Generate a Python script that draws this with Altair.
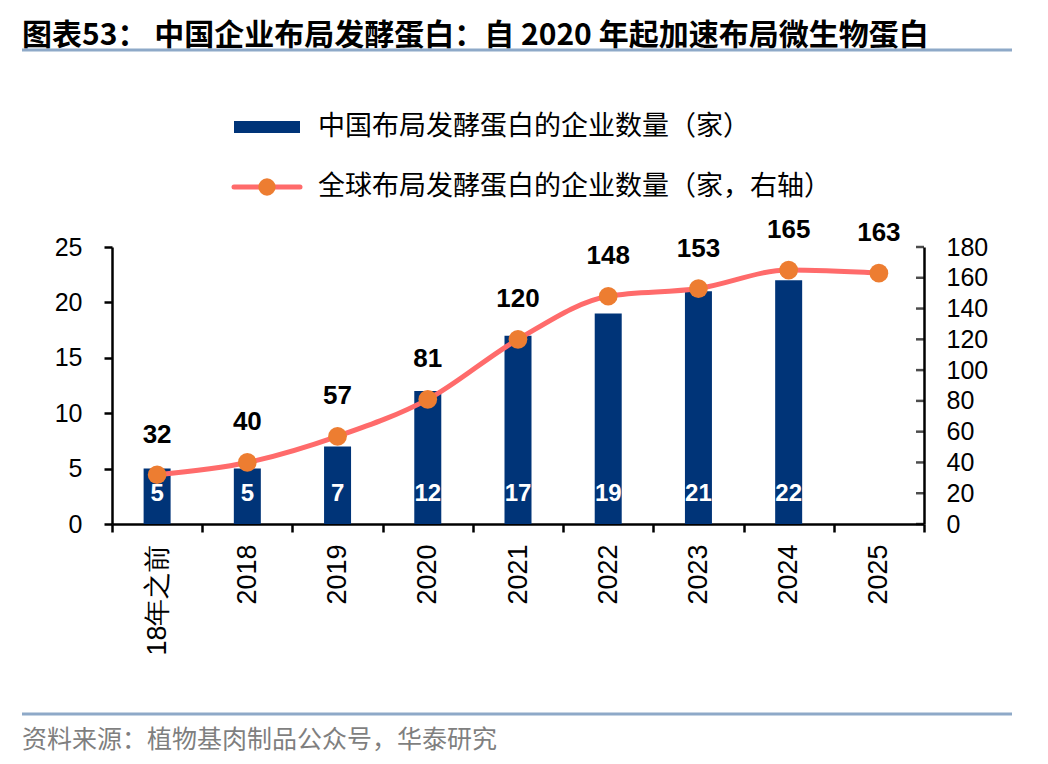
import altair as alt
import pandas as pd

categories = ["18年之前", "2018", "2019", "2020", "2021", "2022", "2023", "2024", "2025"]
china_counts = [5, 5, 7, 12, 17, 19, 21, 22, None]
global_counts = [32, 40, 57, 81, 120, 148, 153, 165, 163]
left_ticks = [0, 5, 10, 15, 20, 25]
right_ticks = [0, 20, 40, 60, 80, 100, 120, 140, 160, 180]

title_text = "图表53：  中国企业布局发酵蛋白：自 2020 年起加速布局微生物蛋白"
legend_bar = "中国布局发酵蛋白的企业数量（家）"
legend_line = "全球布局发酵蛋白的企业数量（家，右轴）"
source_text = "资料来源：植物基肉制品公众号，华泰研究"

df = pd.DataFrame({"cat": categories, "china": china_counts, "glob": global_counts})
rticks = pd.DataFrame({"glob": right_ticks})

CN = "Noto Sans CJK SC"
NUM = "Liberation Sans"
BAR_C = "#003478"
LINE_C = "#FF6B6B"
PT_C = "#ED7D31"
SEP_C = "#8EA9C8"

W, H = 812, 277

x_enc = alt.X(
    "cat:N", sort=categories, title=None,
    scale=alt.Scale(paddingInner=0, paddingOuter=0),
    axis=alt.Axis(labelAngle=-90, labelAlign="right", labelBaseline="middle",
                  labelFontSize=27, labelFont=NUM, labelColor="black", labelPadding=12,
                  domainColor="black", domainWidth=2.5, tickColor="black", tickWidth=2.5,
                  tickSize=8, tickBand="extent", grid=False),
)

bars = alt.Chart(df).mark_bar(size=27, color=BAR_C).encode(
    x=x_enc,
    y=alt.Y("china:Q", title=None,
            scale=alt.Scale(domain=[0, 25], nice=False, zero=True),
            axis=alt.Axis(values=left_ticks, orient="left", grid=False, labelOverlap=False,
                          labelFontSize=25, labelFont=NUM, labelColor="black", labelPadding=22,
                          domainColor="black", domainWidth=2.5, tickColor="black",
                          tickWidth=2.5, tickSize=8)),
)
bar_labels = alt.Chart(df).transform_filter("datum.china != null").mark_text(
    color="white", fontWeight="bold", fontSize=24, font=NUM, baseline="middle"
).encode(x=alt.X("cat:N", sort=categories), y=alt.value(247), text="china:Q")

left = alt.layer(bars, bar_labels)

right_axis = alt.Axis(values=right_ticks, orient="right", grid=False, labelOverlap=False,
                      labelFontSize=25, labelFont=NUM, labelColor="black", labelPadding=22,
                      domainColor="black", domainWidth=2.5, ticks=False, tickSize=0)
right_scale = alt.Scale(domain=[0, 180], nice=False, zero=True)
y_right = alt.Y("glob:Q", title=None, scale=right_scale, axis=right_axis)

line = alt.Chart(df).mark_line(color=LINE_C, strokeWidth=5, interpolate="monotone").encode(
    x=alt.X("cat:N", sort=categories), y=y_right)
pts = alt.Chart(df).mark_circle(size=350, color=PT_C, opacity=1).encode(
    x=alt.X("cat:N", sort=categories), y=y_right)
pt_labels = alt.Chart(df).mark_text(
    dy=-40, fontWeight="bold", fontSize=26, font=NUM, color="black", baseline="middle"
).encode(x=alt.X("cat:N", sort=categories), y=y_right, text="glob:Q")
r_ticks = alt.Chart(rticks).mark_tick(
    orient="horizontal", size=8, thickness=2.5, color="black"
).encode(x=alt.value(W - 4), y=y_right)

right = alt.layer(line, pts, pt_labels, r_ticks)

one = pd.DataFrame({"k": [0]})

title = alt.Chart(one).mark_text(
    text=title_text, font=CN, fontSize=30, fontWeight="bold", align="left",
    baseline="alphabetic", color="black"
).encode(x=alt.value(-90), y=alt.value(-202))
title_rule = alt.Chart(one).mark_rule(color=SEP_C, strokeWidth=3).encode(
    x=alt.value(-90), x2=alt.value(900), y=alt.value(-197))
foot_rule = alt.Chart(one).mark_rule(color=SEP_C, strokeWidth=3).encode(
    x=alt.value(-90), x2=alt.value(900), y=alt.value(467))
foot = alt.Chart(one).mark_text(
    text=source_text, font=CN, fontSize=25, align="left", baseline="alphabetic", color="#7F7F7F"
).encode(x=alt.value(-90), y=alt.value(501))

leg_rect = alt.Chart(one).mark_rect(color=BAR_C).encode(
    x=alt.value(122), x2=alt.value(188), y=alt.value(-126), y2=alt.value(-114))
leg_t1 = alt.Chart(one).mark_text(
    text=legend_bar, font=CN, fontSize=27, align="left", baseline="middle", color="black"
).encode(x=alt.value(206), y=alt.value(-120))
leg_line = alt.Chart(one).mark_rule(color=LINE_C, strokeWidth=5, strokeCap="round").encode(
    x=alt.value(122), x2=alt.value(188), y=alt.value(-60))
leg_pt = alt.Chart(one).mark_circle(size=300, color=PT_C, opacity=1).encode(
    x=alt.value(155), y=alt.value(-60))
leg_t2 = alt.Chart(one).mark_text(
    text=legend_line, font=CN, fontSize=27, align="left", baseline="middle", color="black"
).encode(x=alt.value(206), y=alt.value(-60))

deco = alt.layer(title, title_rule, foot_rule, foot, leg_rect, leg_t1, leg_line, leg_pt, leg_t2)

chart = alt.layer(left, right, deco).resolve_scale(y="independent").properties(
    width=W, height=H,
    autosize=alt.AutoSizeParams(type="none"),
    padding={"left": 104, "top": 239, "right": 116, "bottom": 232},
    background="white",
).configure_view(stroke=None)

chart.save("out.html", embed_options={"renderer": "svg", "actions": False})
